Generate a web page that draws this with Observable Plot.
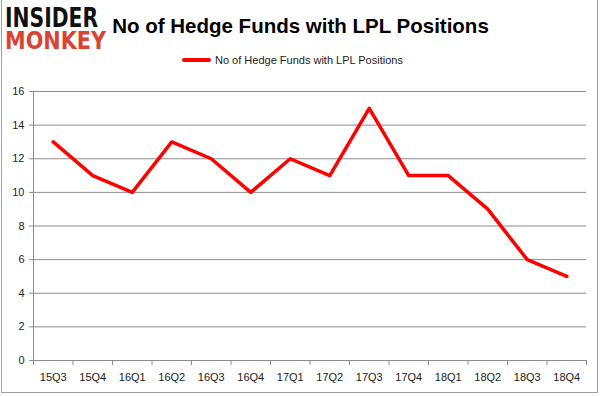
<!DOCTYPE html>
<html><head><meta charset="utf-8">
<script src="https://cdn.jsdelivr.net/npm/d3@7"></script>
<script src="https://cdn.jsdelivr.net/npm/@observablehq/plot@0.6"></script>
<style>
html,body{margin:0;padding:0;background:#fff;}
#wrap{position:relative;width:601px;height:396px;overflow:hidden;font-family:"Liberation Sans",Arial,sans-serif;}
#wrap svg{position:absolute;left:0;top:0;}
#frame{position:absolute;left:1px;top:-2px;width:597px;height:395px;border:1px solid #a0a0a0;border-top:none;box-sizing:border-box;}
#title{position:absolute;left:0;width:601px;top:14px;text-align:center;box-sizing:border-box;font-size:20.5px;font-weight:bold;color:#000;}
#legend{position:absolute;top:54px;left:182px;font-size:11px;color:#222;display:flex;align-items:center;}
#legend span.sw{display:inline-block;width:29px;height:4px;background:#ff0000;border-radius:2px;margin-right:4px;}
</style></head>
<body>
<div id="wrap">
<div id="frame"></div>
<svg id="logo" width="180" height="60" style="position:absolute;left:0;top:0;overflow:visible;">
  <text font-family="DejaVu Sans, sans-serif" font-weight="bold"><tspan x="5" y="27" font-size="26" fill="#111" textLength="93" lengthAdjust="spacingAndGlyphs">INSIDER</tspan><tspan x="5" y="48.5" font-size="24" fill="#d9432f" textLength="101" lengthAdjust="spacingAndGlyphs">MONKEY</tspan></text>
</svg>
<div id="title">No of Hedge Funds with LPL Positions</div>
<div id="legend"><span class="sw"></span><span>No of Hedge Funds with LPL Positions</span></div>
</div>
<script>
const quarters = ["15Q3","15Q4","16Q1","16Q2","16Q3","16Q4","17Q1","17Q2","17Q3","17Q4","18Q1","18Q2","18Q3","18Q4"];
const funds = [13,11,10,13,12,10,12,11,15,11,11,9,6,5];
const yTicks = [0,2,4,6,8,10,12,14,16];

const data = quarters.map((q,i)=>({i: i+0.5, q, v: funds[i]}));
const grid = "#8c8c8c";
const chart = Plot.plot({
  width: 601, height: 396,
  marginLeft: 33, marginRight: 15, marginTop: 91, marginBottom: 36,
  style: {fontFamily: "Liberation Sans, Arial, sans-serif", fontSize: "11px", background: "transparent", overflow: "visible"},
  x: {type: "linear", domain: [0, quarters.length]},
  y: {domain: [0, 16]},
  marks: [
    Plot.gridY(yTicks, {stroke: grid, strokeOpacity: 1}),
    Plot.ruleX([0], {stroke: grid}),
    Plot.axisY({ticks: yTicks, tickSize: 4, tickPadding: 5, stroke: grid, color: "#222", label: null}),
    Plot.axisX({ticks: d3.range(quarters.length + 1), tickSize: 5, tickFormat: () => "", stroke: grid, label: null}),
    Plot.axisX({ticks: data.map(d => d.i), tickSize: 0, tickPadding: 13, tickFormat: d => quarters[Math.round(d - 0.5)], color: "#222", label: null}),
    Plot.lineY(data, {x: "i", y: "v", stroke: "#ff0000", strokeWidth: 3.5, curve: "linear", strokeLinejoin: "round", strokeLinecap: "round"})
  ]
});
document.getElementById("wrap").insertBefore(chart, document.getElementById("frame"));
</script>
</body></html>
